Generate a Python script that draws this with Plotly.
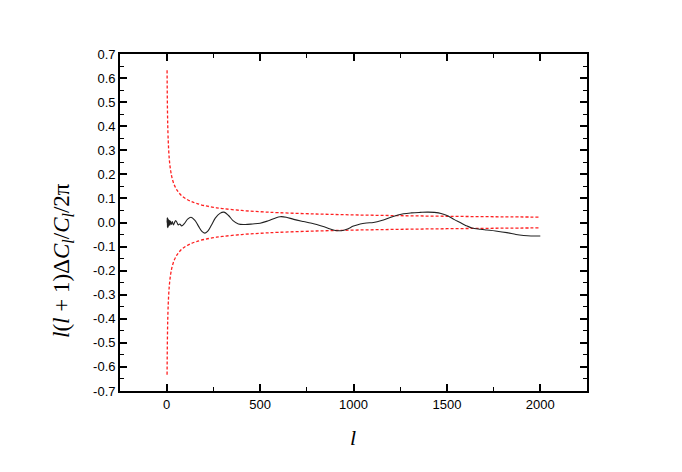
import plotly.graph_objects as go

# Black curve: l(l+1) ΔC_l / C_l / 2π
l_curve = [2, 3, 4, 5, 6, 7, 8, 9, 10, 12, 14, 16, 18, 20, 25, 30, 36, 42, 48, 55, 62, 70, 80, 95,
           112, 130, 150, 170, 190, 205, 220, 240, 260, 285, 307, 330, 355, 384, 420, 460, 500,
           540, 580, 607, 640, 680, 732, 770, 803, 850, 902, 935, 964, 1000, 1036, 1070, 1107,
           1150, 1200, 1268, 1310, 1357, 1400, 1455, 1490, 1509, 1540, 1571, 1600, 1634, 1680,
           1714, 1760, 1821, 1870, 1911, 1950, 2000]
v_curve = [0.0, 0.02, -0.02, 0.018, -0.022, 0.015, -0.018, 0.012, -0.015, 0.01, -0.012, 0.008,
           -0.01, 0.006, -0.008, 0.004, -0.01, 0.0, 0.008, 0.0, -0.01, -0.006, -0.014, -0.004,
           0.014, 0.022, 0.01, -0.015, -0.038, -0.044, -0.036, -0.01, 0.018, 0.038, 0.043, 0.03,
           0.008, -0.006, -0.008, -0.006, -0.003, 0.006, 0.018, 0.024, 0.022, 0.013, 0.004,
           -0.002, -0.008, -0.02, -0.033, -0.034, -0.028, -0.015, -0.006, -0.002, 0.0, 0.008,
           0.022, 0.036, 0.04, 0.042, 0.043, 0.04, 0.032, 0.026, 0.012, 0.0, -0.012, -0.023,
           -0.028, -0.031, -0.035, -0.042, -0.05, -0.054, -0.056, -0.056]

# Red dashed envelope
l_band = [2, 3, 4, 5, 6, 8, 10, 13, 16, 20, 25, 30, 40, 50, 60, 80, 100, 130, 160, 200, 250,
          300, 400, 500, 600, 800, 1000, 1200, 1400, 1600, 1800, 2000]
upper_band = [0.632, 0.535, 0.471, 0.426, 0.392, 0.343, 0.309, 0.272, 0.246, 0.221, 0.198,
              0.181, 0.157, 0.141, 0.129, 0.111, 0.0998, 0.0876, 0.079, 0.0706, 0.0632, 0.0577,
              0.05, 0.0447, 0.0408, 0.0353, 0.0316, 0.0289, 0.0267, 0.025, 0.0236, 0.0224]
lower_band = [-v for v in upper_band]

x_ticks = [0, 500, 1000, 1500, 2000]
y_ticks = [0.7, 0.6, 0.5, 0.4, 0.3, 0.2, 0.1, 0.0, -0.1, -0.2, -0.3, -0.4, -0.5, -0.6, -0.7]
y_ticktext = ["0.7", "0.6", "0.5", "0.4", "0.3", "0.2", "0.1", "0.0",
              "-0.1", "-0.2", "-0.3", "-0.4", "-0.5", "-0.6", "-0.7"]

fig = go.Figure()
for band in (upper_band, lower_band):
    fig.add_trace(go.Scatter(x=l_band, y=band, mode="lines", line_shape="spline",
                             line=dict(color="#ff2020", width=1.3, dash="3px,2px"),
                             showlegend=False, hoverinfo="skip"))
fig.add_trace(go.Scatter(x=l_curve, y=v_curve, mode="lines", line_shape="spline",
                         line=dict(color="#222222", width=1.1), showlegend=False))

axis_common = dict(showline=True, linecolor="black", linewidth=1.8, mirror="ticks",
                   ticks="inside", ticklen=7, tickwidth=1.5, tickcolor="black",
                   showgrid=False, zeroline=False,
                   tickfont=dict(family="Liberation Sans, Arial", size=13, color="black"))

fig.update_xaxes(range=[-250, 2250], tickvals=x_ticks, ticktext=[str(t) for t in x_ticks],
                 minor=dict(ticks="inside", ticklen=4, tickwidth=1.2, tickcolor="black", dtick=250,
                            tick0=0, showgrid=False),
                 **axis_common)
fig.update_yaxes(range=[-0.7, 0.7], tickvals=y_ticks, ticktext=y_ticktext,
                 minor=dict(ticks="inside", ticklen=4, tickwidth=1.2, tickcolor="black", dtick=0.05,
                            tick0=0, showgrid=False),
                 **axis_common)

fig.add_annotation(text="<i>l</i>(<i>l</i> + 1)Δ<i>C</i><sub><i>l</i></sub>/<i>C</i><sub><i>l</i></sub>/2π",
                   xref="paper", yref="paper", x=-0.122, y=0.386, textangle=-90,
                   showarrow=False, xanchor="center", yanchor="middle",
                   font=dict(family="Liberation Serif, Times New Roman", size=23, color="black"))
fig.add_annotation(text="<i>l</i>", xref="paper", yref="paper", x=0.499, y=-0.137,
                   showarrow=False, xanchor="center", yanchor="middle",
                   font=dict(family="Liberation Serif, Times New Roman", size=22, color="black"))

fig.update_layout(width=674, height=464, margin=dict(l=112, r=95, t=46, b=81),
                  paper_bgcolor="white", plot_bgcolor="white")

fig.write_html("out.html")
